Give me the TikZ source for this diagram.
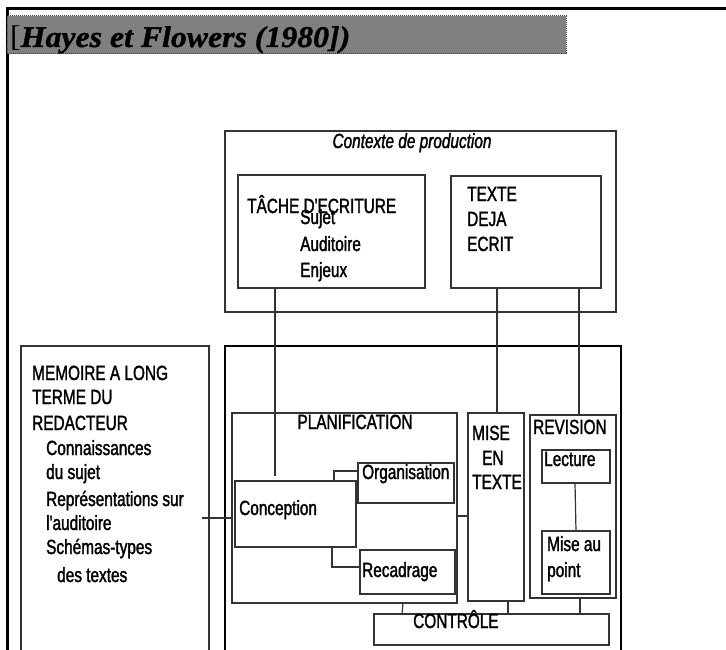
\documentclass[tikz,border=0pt]{standalone}
\usepackage{fontspec}
\newfontfamily\nar[FakeStretch=0.75,FakeBold=1.6]{Liberation Sans}
\newfontfamily\titfont[FakeStretch=1.06]{Liberation Serif}
\newfontfamily\titbfit[FakeStretch=1.06,FakeBold=1.2]{Liberation Serif Bold Italic}
\begin{document}
\begin{tikzpicture}[x=1pt,y=-1pt,
  box/.style={draw=black!80, line width=1.2pt, inner sep=0pt, outer sep=0pt, anchor=north west},
  bigbox/.style={draw=black, line width=2pt, inner sep=0pt, outer sep=0pt, anchor=north west},
  txt/.style={font=\nar\fontsize{20.5}{24}\selectfont, inner sep=0pt, anchor=base west},
  conn/.style={draw=black!80, line width=1.2pt}]
\useasboundingbox (0,0) rectangle (726,650);
\clip (0,0) rectangle (726,650);
% outer frame
\draw[line width=2.5pt] (7.5,700) -- (7.5,8.5) -- (740,8.5);
% title bar
\node[anchor=north west, inner sep=0pt, outer sep=0pt, fill=black!50, draw=black!75, densely dotted, line width=1pt,
      minimum width=559pt, minimum height=38pt] (titlebar) at (7,16) {};
\node[anchor=base west, inner sep=0pt] (titletext) at (10,47)
  {\fontsize{30}{30}\selectfont{\titfont [}{\titbfit Hayes et Flowers (1980])}};
% boxes
\node[box, minimum width=391pt, minimum height=181pt] (contexte) at (225,131) {};
\node[box, minimum width=187pt, minimum height=113pt] (tache) at (238,175) {};
\node[box, minimum width=150pt, minimum height=112pt] (texte) at (451,176) {};
\node[box, minimum width=188pt, minimum height=400pt] (memoire) at (21,346) {};
\node[bigbox, minimum width=396pt, minimum height=400pt] (process) at (225,346) {};
\node[box, minimum width=225pt, minimum height=190pt] (planif) at (232,413) {};
\node[box, minimum width=121pt, minimum height=66pt] (conc) at (235,481) {};
\node[box, minimum width=96pt, minimum height=40pt] (orga) at (358,463) {};
\node[box, minimum width=95pt, minimum height=44pt] (reca) at (360,550) {};
\node[box, minimum width=56pt, minimum height=188pt] (mise) at (468,413) {};
\node[box, minimum width=86pt, minimum height=183pt] (rev) at (530,415) {};
\node[box, minimum width=68pt, minimum height=33pt] (lect) at (542,450) {};
\node[box, minimum width=68pt, minimum height=63pt] (map) at (542,531) {};
\node[box, minimum width=235pt, minimum height=31pt] (ctrl) at (374,614) {};
% texts
\node[txt, anchor=base, font=\nar\itshape\fontsize{20.5}{24}\selectfont] (tctx) at (412,148) {Contexte de production};
\node[txt] (t1) at (247,213) {TÂCHE D'ECRITURE};
\node[txt] (t2) at (300,224) {Sujet};
\node[txt] (t3) at (300,251) {Auditoire};
\node[txt] (t4) at (300,277) {Enjeux};
\node[txt] (t5) at (467,201) {TEXTE};
\node[txt] (t6) at (467,226) {DEJA};
\node[txt] (t7) at (467,251) {ECRIT};
\node[txt] (m1) at (32,380) {MEMOIRE A LONG};
\node[txt] (m2) at (32,404) {TERME DU};
\node[txt] (m3) at (32,430) {REDACTEUR};
\node[txt] (m4) at (46,455) {Connaissances};
\node[txt] (m5) at (46,479) {du sujet};
\node[txt] (m6) at (46,506) {Représentations sur};
\node[txt] (m7) at (46,530) {l'auditoire};
\node[txt] (m8) at (46,554) {Schémas-types};
\node[txt] (m9) at (57,582) {des textes};
\node[txt, anchor=base] (tp) at (355,429) {PLANIFICATION};
\node[txt] (tc) at (239,515) {Conception};
\node[txt] (to) at (362,479) {Organisation};
\node[txt] (tr) at (362,577) {Recadrage};
\node[txt] (x1) at (472,440) {MISE};
\node[txt] (x2) at (482,465) {EN};
\node[txt] (x3) at (472,489) {TEXTE};
\node[txt] (r1) at (533,434) {REVISION};
\node[txt] (r2) at (544,466) {Lecture};
\node[txt] (r3) at (547,551) {Mise au};
\node[txt] (r4) at (547,577) {point};
\node[txt] (tk) at (413,628) {CONTRÔLE};
% connectors
\draw[conn] ([xshift=37pt]tache.south west) -- ([xshift=40pt,yshift=5pt]conc.north west);
\draw[conn] ([xshift=46pt]texte.south west) -- ([xshift=29pt]mise.north west);
\draw[conn] ([xshift=128pt]texte.south west) -- ([xshift=49pt]rev.north west);
\draw[conn] ([shift={(-7pt,-172pt)}]memoire.north east) -- ([yshift=-105pt]planif.north west);
\draw[conn] ([xshift=99pt]conc.north west) |- ([yshift=-8pt]orga.north west);
\draw[conn] ([xshift=97pt]conc.south west) |- ([yshift=-17pt]reca.north west);
\draw[conn] ([yshift=-103pt]planif.north east) -- ([yshift=-103pt]mise.north west);
\draw[conn] ([xshift=171pt]planif.south west) -- ([xshift=28pt]ctrl.north west);
\draw[conn] ([xshift=40pt]mise.south west) -- ([xshift=134pt]ctrl.north west);
\draw[conn] ([xshift=50pt]rev.south west) -- ([xshift=206pt]ctrl.north west);
\draw[conn] ([xshift=33pt]lect.south west) -- ([xshift=34pt]map.north west);
\end{tikzpicture}
\end{document}
